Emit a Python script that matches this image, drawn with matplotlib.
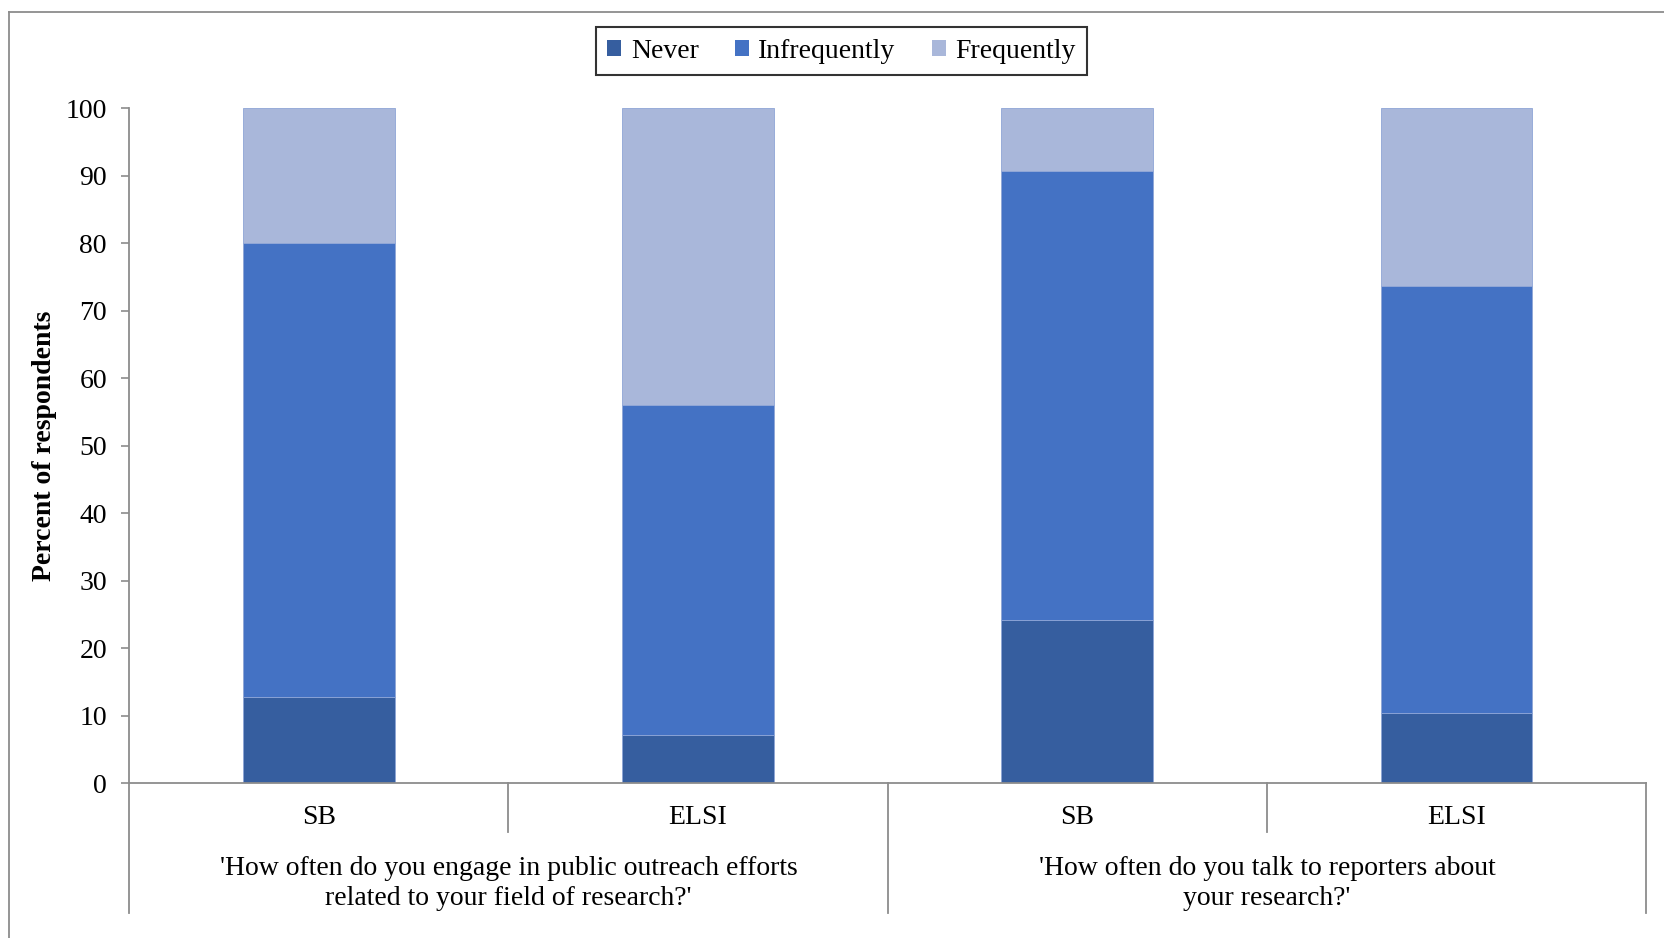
import matplotlib
matplotlib.use("Agg")
import matplotlib.pyplot as plt
import numpy as np
from matplotlib.patches import Patch
from matplotlib.lines import Line2D

plt.rcParams['font.family'] = ['Liberation Serif', 'DejaVu Serif']

groups = ["SB", "ELSI", "SB", "ELSI"]
questions = ["'How often do you engage in public outreach efforts\nrelated to your field of research?'",
             "'How often do you talk to reporters about\nyour research?'"]
never = [12.8, 7.1, 24.1, 10.4]
infrequently = [67.2, 49.0, 66.6, 63.3]
frequently = [20.0, 43.9, 9.3, 26.3]
series_names = ["Never", "Infrequently", "Frequently"]
colors = ["#365E9F", "#4472C4", "#A9B7DA"]
yticks = [0, 10, 20, 30, 40, 50, 60, 70, 80, 90, 100]

W, H = 1665, 938
fig = plt.figure(figsize=(W / 100, H / 100), dpi=100)
ax = fig.add_axes([129.2 / W, 1 - 783 / H, 1517 / W, 674.5 / H])

x = np.arange(len(groups))
bottom = np.zeros(len(groups))
for vals, name, col in zip([never, infrequently, frequently], series_names, colors):
    ax.bar(x, vals, width=0.4, bottom=bottom, color=col, label=name,
           edgecolor="#8EA5D6", linewidth=0.6, zorder=2)
    bottom += np.array(vals)

ax.set_xlim(-0.5, 3.5)
ax.set_ylim(0, 100)
ax.set_yticks(yticks)
ax.set_yticklabels([str(v) for v in yticks], fontsize=20)
ax.tick_params(axis='y', length=6, width=1.2, color='#8C8C8C', pad=10)
ax.set_xticks([])
for s in ['top', 'right']:
    ax.spines[s].set_visible(False)
for s in ['left', 'bottom']:
    ax.spines[s].set_color('#8C8C8C')
    ax.spines[s].set_linewidth(1.3)

ax.set_ylabel("Percent of respondents", fontsize=20, fontweight='bold', labelpad=6)

# category labels and separators below the axis
tr = ax.get_xaxis_transform()
for xi, g in zip(x, groups):
    ax.text(xi, -0.051, g, transform=tr, ha='center', va='center', fontsize=20)
for xs in [0.5, 2.5]:
    ax.add_line(Line2D([xs, xs], [0, -0.073], transform=tr, color='#8C8C8C',
                       lw=1.3, clip_on=False))
for xs in [-0.5, 1.5, 3.5]:
    ax.add_line(Line2D([xs, xs], [0, -0.193], transform=tr, color='#8C8C8C',
                       lw=1.3, clip_on=False))
for gi, q in enumerate(questions):
    ax.text(2 * gi + 0.5, -0.149, q, transform=tr, ha='center', va='center',
            fontsize=20, linespacing=1.3)

handles = [Patch(facecolor=c, edgecolor='none') for c in colors]
leg = fig.legend(handles, series_names, loc='center', bbox_to_anchor=(841.5 / W, 1 - 51 / H),
                 ncol=3, fontsize=20, frameon=True, fancybox=False, handlelength=0.5,
                 handleheight=0.5, handletextpad=0.35, columnspacing=1.3,
                 borderpad=0.42, borderaxespad=0, edgecolor='black')
leg.get_frame().set_linewidth(1.5)

# outer chart border (top and left edges)
fig.add_artist(Line2D([9 / W, 1], [1 - 12 / H, 1 - 12 / H], transform=fig.transFigure,
                      color='#8C8C8C', lw=1.3))
fig.add_artist(Line2D([9 / W, 9 / W], [0, 1 - 12 / H], transform=fig.transFigure,
                      color='#8C8C8C', lw=1.3))

fig.savefig("out.png", dpi=100)
